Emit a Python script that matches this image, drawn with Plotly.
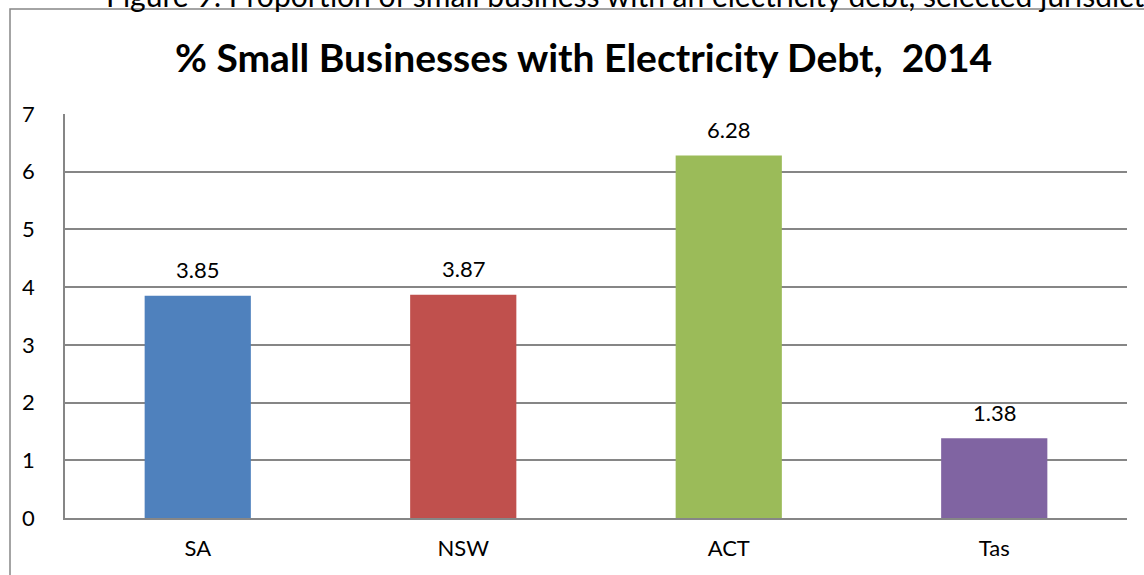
import plotly.graph_objects as go

# Share of small businesses carrying electricity debt, by jurisdiction
regions = ["SA", "NSW", "ACT", "Tas"]
debt_pct = [3.85, 3.87, 6.28, 1.38]
bar_colors = ["#4F81BD", "#C0504D", "#9BBB59", "#8064A2"]
y_ticks = [0, 1, 2, 3, 4, 5, 6, 7]

W, H = 1144, 575
ML, MR, MT, MB = 65, 17, 114, 57
PW, PH = W - ML - MR, H - MT - MB


def px_x(x):
    return (x - ML) / PW


def px_y(y):
    return (H - MB - y) / PH


FONT = "Lato"
GRID = "#868686"

fig = go.Figure(
    go.Bar(
        x=regions,
        y=debt_pct,
        marker=dict(color=bar_colors, line=dict(width=0)),
        width=0.4,
        cliponaxis=False,
    )
)

# value labels sitting above each bar
value_labels = [
    dict(
        x=r,
        y=v,
        xref="x",
        yref="y",
        text=f"{v:.2f}",
        showarrow=False,
        yanchor="middle",
        yshift=26,
        font=dict(family=FONT, size=22, color="black"),
    )
    for r, v in zip(regions, debt_pct)
]

fig.update_layout(
    width=W,
    height=H,
    margin=dict(l=ML, r=MR, t=MT, b=MB),
    paper_bgcolor="white",
    plot_bgcolor="white",
    showlegend=False,
    font=dict(family=FONT, color="black"),
    xaxis=dict(
        showline=True,
        linecolor=GRID,
        linewidth=1.5,
        tickfont=dict(size=22),
        ticks="",
        ticklabelstandoff=10,
    ),
    yaxis=dict(
        range=[0, 7],
        tickvals=y_ticks,
        showgrid=True,
        gridcolor=GRID,
        gridwidth=1.5,
        showline=True,
        linecolor=GRID,
        linewidth=1.5,
        zeroline=False,
        tickfont=dict(size=22),
        ticks="",
        ticklabelstandoff=24,
    ),
    shapes=[
        dict(
            type="rect",
            xref="paper",
            yref="paper",
            x0=px_x(10),
            x1=px_x(1160),
            y0=px_y(590),
            y1=px_y(9),
            line=dict(color=GRID, width=1.5),
            fillcolor="rgba(0,0,0,0)",
            layer="below",
        )
    ],
    annotations=value_labels
    + [
        dict(
            text="<b>% Small Businesses with Electricity Debt,  2014</b>",
            xref="paper",
            yref="paper",
            x=px_x(583),
            y=px_y(57),
            xanchor="center",
            yanchor="middle",
            showarrow=False,
            font=dict(family=FONT, size=39, color="black"),
        ),
        dict(
            text="Figure 9: Proportion of small business with an electricity debt, selected jurisdictions",
            xref="paper",
            yref="paper",
            x=px_x(104),
            y=px_y(15),
            xanchor="left",
            yanchor="bottom",
            showarrow=False,
            font=dict(family=FONT, size=30, color="black"),
        ),
    ],
)

fig.write_html("out.html")
